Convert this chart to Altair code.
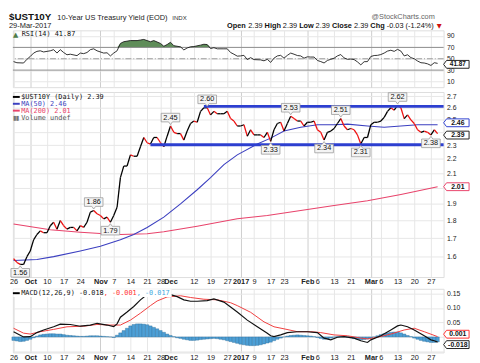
import altair as alt
import pandas as pd
import numpy as np

# ---------------- data (trading-day index 0 = 26 Sep 2016 ... 127 = 29 Mar 2017) -------------
N_DAYS = 128
close = [1.59, 1.57, 1.56, 1.56, 1.60,
         1.63, 1.69, 1.72, 1.74, 1.73, 1.73, 1.77, 1.79, 1.75, 1.80, 1.77, 1.75, 1.76, 1.76, 1.74,
         1.77, 1.76, 1.79, 1.85, 1.86, 1.84,
         1.83, 1.81, 1.82, 1.79, 1.83, 1.88, 2.07, 2.15, 2.15, 2.23, 2.22, 2.22, 2.29, 2.36,
         2.32, 2.31, 2.36, 2.36, 2.32, 2.29, 2.37,
         2.45, 2.40, 2.39, 2.39, 2.34, 2.41, 2.47, 2.49, 2.48, 2.57, 2.60, 2.60,
         2.54, 2.57, 2.55, 2.55, 2.55, 2.57, 2.51, 2.49, 2.45,
         2.45, 2.46, 2.37, 2.42, 2.38, 2.38, 2.38, 2.36, 2.40, 2.33, 2.42, 2.47, 2.48,
         2.41, 2.47, 2.53, 2.51, 2.49, 2.49, 2.45,
         2.48, 2.48, 2.49, 2.42, 2.40, 2.34, 2.40, 2.41, 2.43, 2.47, 2.51, 2.45, 2.42,
         2.43, 2.42, 2.38, 2.31, 2.36, 2.36,
         2.46, 2.48, 2.48, 2.49, 2.52, 2.57, 2.60, 2.58, 2.62, 2.60, 2.51, 2.54, 2.50,
         2.47, 2.42, 2.40, 2.41, 2.40, 2.38, 2.42, 2.39]

ma50_points = [(0, 1.58), (7, 1.585), (12, 1.60), (20, 1.63), (26, 1.655), (32, 1.69), (36, 1.72),
               (40, 1.76), (45, 1.82), (50, 1.90), (55, 1.99), (59, 2.07), (63, 2.16), (67, 2.23),
               (73, 2.31), (77, 2.355), (81, 2.41), (86, 2.44), (91, 2.46), (96, 2.46), (100, 2.465),
               (106, 2.45), (111, 2.44), (116, 2.45), (121, 2.46), (127, 2.46)]
ma200_points = [(0, 1.78), (11, 1.747), (20, 1.733), (26, 1.725), (32, 1.72), (40, 1.724), (45, 1.735),
                (55, 1.767), (67, 1.81), (76, 1.83), (86, 1.86), (96, 1.89), (106, 1.92), (116, 1.96),
                (127, 2.01)]

rsi_points = [(0, 45), (1, 43), (3, 42.5), (4, 49), (5, 54), (6, 60), (7, 63), (8, 64), (9, 62), (11, 64),
              (12, 66), (13, 60), (14, 66), (15, 61), (16, 57), (17, 58), (19, 55.5), (20, 60), (21, 59),
              (22, 61), (23, 66), (24, 67.5), (25, 64), (27, 60), (28, 60.5), (29, 55), (30, 60), (31, 64),
              (32, 77), (33, 80), (35, 82), (37, 82), (38, 83), (39, 84), (40, 82), (41, 80), (42, 82),
              (44, 77), (45, 72), (46, 75), (47, 79), (48, 73), (50, 71), (51, 65.5), (52, 69), (53, 71),
              (54, 71.5), (56, 74), (57, 75.5), (58, 75), (59, 68), (60, 69.5), (61, 67.5), (63, 67.5),
              (64, 67.5), (65, 61), (66, 58), (67, 54.6), (68, 55), (69, 56), (70, 48.5), (71, 52),
              (72, 48.5), (74, 48), (75, 46.4), (76, 49), (77, 43.6), (78, 51), (79, 55), (80, 56),
              (81, 51), (82, 56), (83, 60), (84, 58), (85, 55.7), (86, 55), (87, 51), (88, 53.4), (89, 53),
              (90, 53), (91, 47), (92, 45), (93, 42.6), (94, 47), (95, 49), (96, 51), (97, 55), (98, 57.4),
              (99, 51.5), (100, 49), (101, 49.5), (102, 48.5), (103, 44.5), (104, 39.3), (105, 44.8),
              (106, 45), (107, 54), (108, 55.7), (109, 56), (110, 57.4), (111, 60), (112, 63.5), (113, 65),
              (114, 63), (115, 66.5), (116, 63.5), (117, 55), (118, 57), (119, 52), (120, 50), (121, 46),
              (122, 43), (123, 42.5), (124, 41), (125, 38.2), (126, 43), (127, 41.87)]

macd_points = [(0, 0.018), (2, 0.006), (3, 0.0), (5, 0.001), (7, 0.015), (9, 0.024), (12, 0.035),
               (14, 0.044), (17, 0.043), (20, 0.037), (23, 0.041), (25, 0.047), (28, 0.041), (30, 0.036),
               (31, 0.045), (32, 0.068), (34, 0.086), (36, 0.105), (38, 0.128), (40, 0.146), (42, 0.152),
               (44, 0.152), (46, 0.148), (47, 0.146), (49, 0.139), (51, 0.128), (53, 0.123), (55, 0.123),
               (58, 0.125), (60, 0.131), (63, 0.12), (65, 0.103), (67, 0.086), (70, 0.058), (73, 0.035),
               (76, 0.013), (77, 0.004), (78, 0.001), (80, 0.007), (82, 0.015), (85, 0.018), (88, 0.018),
               (91, 0.015), (93, -0.004), (95, -0.01), (97, -0.001), (99, 0.001), (102, -0.004),
               (104, -0.013), (106, -0.019), (107, -0.01), (110, 0.004), (113, 0.024), (115, 0.038),
               (116, 0.041), (118, 0.035), (120, 0.024), (123, 0.004), (125, -0.01), (126, -0.013),
               (127, -0.018)]
signal_points = [(0, 0.03), (3, 0.013), (5, 0.01), (8, 0.018), (12, 0.026), (16, 0.035), (21, 0.037),
                 (25, 0.043), (29, 0.041), (32, 0.041), (35, 0.058), (38, 0.082), (41, 0.108), (43, 0.124),
                 (46, 0.138), (50, 0.142), (53, 0.136), (57, 0.13), (61, 0.128), (65, 0.118), (67, 0.108),
                 (71, 0.085), (75, 0.052), (78, 0.035), (81, 0.028), (85, 0.018), (89, 0.018), (92, 0.015),
                 (96, 0.007), (100, 0.004), (104, -0.004), (106, -0.007), (109, -0.001), (113, 0.01),
                 (117, 0.024), (120, 0.03), (123, 0.018), (127, 0.001)]
hist = [-0.012, -0.014, -0.016, -0.015, -0.012,
        -0.008, -0.003, 0.003, 0.007, 0.009, 0.010, 0.011, 0.011, 0.010, 0.010,
        0.008, 0.006, 0.005, 0.004, 0.003, 0.002, 0.002, 0.003, 0.004, 0.004, 0.004,
        0.003, 0.002, 0.001, 0.000, -0.002, 0.006, 0.014, 0.022, 0.030,
        0.038, 0.043, 0.045, 0.045, 0.044, 0.042, 0.038, 0.033, 0.028, 0.022, 0.016, 0.010,
        0.005, 0.001, -0.003, -0.005, -0.008, -0.010, -0.012, -0.012, -0.011, -0.009, -0.008, -0.007,
        -0.006, -0.005, -0.006, -0.008, -0.010, -0.013, -0.016, -0.019, -0.022,
        -0.025, -0.027, -0.029, -0.030, -0.030, -0.029, -0.027, -0.024, -0.021,
        -0.018, -0.013, -0.008, -0.004, 0.000, 0.003, 0.005, 0.006, 0.007, 0.006, 0.005,
        0.004, 0.003, 0.001, -0.002, -0.005, -0.008, -0.007, -0.004,
        -0.001, 0.001, 0.002, 0.001, -0.001, -0.003, -0.006, -0.008, -0.010, -0.009, -0.007,
        -0.004, 0.000, 0.004, 0.008, 0.011, 0.014, 0.016, 0.017,
        0.017, 0.014, 0.010, 0.005, 0.001, -0.004, -0.008, -0.012, -0.015, -0.017,
        -0.019, -0.019, -0.017]

ann_day = [2, 24, 29, 47, 58, 77, 83, 93, 98, 104, 115, 125]
ann_val = [1.56, 1.86, 1.79, 2.45, 2.60, 2.33, 2.53, 2.34, 2.51, 2.31, 2.62, 2.38]
ann_pos = ["below", "above", "below", "above", "above", "below", "above", "below", "above", "below",
           "above", "below"]

trend_start = [41, 57]
trend_end = [128.8, 128.8]
trend_level = [2.305, 2.612]

x_ticks = [0, 5, 10, 15, 20, 26, 30, 35, 40, 44, 47, 54, 59, 64, 68, 72, 77, 81, 88, 91, 96, 101, 107,
           110, 115, 120, 125]
x_labels = ["26", "Oct", "10", "17", "24", "Nov", "7", "14", "21", "28", "Dec", "12", "19", "27", "2017",
            "9", "17", "23", "Feb", "6", "13", "21", "Mar", "6", "13", "20", "27"]
month_ticks = [5, 26, 47, 68, 88, 107]
price_ticks = [1.6, 1.7, 1.8, 1.9, 2.0, 2.1, 2.2, 2.3, 2.4, 2.5, 2.6, 2.7]
price_hidden = [2.0, 2.4]          # labels covered by the value tags
rsi_ticks = [10, 30, 50, 70, 90]
macd_ticks = [-0.05, 0.0, 0.05, 0.10, 0.15]

# ---------------- styling ----------------
FONT = "Liberation Sans"
MONO = "DejaVu Sans Mono"
W = 440
H_RSI, H_PRICE, H_MACD = 58, 189, 65
X_DOMAIN = [-0.2, 128.8]
BLUE = "#2d3fd0"
RED = "#ee1111"
MA200_C = "#e8436b"

xs = alt.Scale(domain=X_DOMAIN, nice=False, zero=False)
rs = alt.Scale(domain=[0, 100], nice=False, zero=False)
ps = alt.Scale(type="log", domain=[1.497, 2.737], nice=False, zero=False)
ms = alt.Scale(domain=[-0.0534, 0.166], nice=False, zero=False)

lab_expr = ("[" + ",".join("'%s'" % s for s in x_labels) + "][indexof([" +
            ",".join(map(str, x_ticks)) + "], datum.value)]")
month_test = "indexof([" + ",".join(map(str, month_ticks)) + "], datum.value) >= 0"


def x_axis(show):
    return alt.Axis(values=x_ticks, labels=show, labelExpr=lab_expr, ticks=False, domain=False,
                    grid=True,
                    gridColor={"condition": {"test": month_test, "value": "#cdcdcd"}, "value": "#e6e6e6"},
                    labelFont=FONT, labelFontSize=7.5, labelColor="#222",
                    labelFontWeight={"condition": {"test": month_test, "value": "bold"}, "value": "normal"},
                    labelPadding=1, labelOverlap=False, labelFlush=False, title=None)


def y_axis(values, expr=None):
    kw = dict(orient="right", values=values, ticks=False, domain=False, grid=True, gridColor="#e6e6e6",
              labelFont=FONT, labelFontSize=7, labelColor="#222", labelPadding=3, title=None,
              labelOverlap=False)
    if expr:
        kw["labelExpr"] = expr
    return alt.Axis(**kw)


AX_X_HIDE = x_axis(False)
AX_X_SHOW = x_axis(True)
AX_RSI = y_axis(rsi_ticks)
hid = " || ".join("abs(datum.value - %s) < 0.001" % v for v in price_hidden)
AX_PRICE = y_axis(price_ticks, expr="(%s) ? '' : format(datum.value, '.1f')" % hid)
AX_MACD = y_axis(macd_ticks, expr="datum.value > 0.01 ? format(datum.value, '.2f') : ''")

AW = {c: 0.556 for c in "0123456789"}
AW.update({" ": 0.278, ".": 0.278, ",": 0.278, "-": 0.333, "(": 0.333, ")": 0.333, "%": 0.889,
           "O": 0.778, "p": 0.556, "e": 0.556, "n": 0.556, "H": 0.722, "i": 0.222, "g": 0.556,
           "h": 0.556, "L": 0.556, "o": 0.556, "w": 0.722, "C": 0.722, "l": 0.222, "s": 0.5,
           "M": 0.833, "a": 0.556, "r": 0.333, "Y": 0.667, "U": 0.722, "S": 0.667, "T": 0.611,
           "u": 0.556, "y": 0.5, "d": 0.556, "E": 0.667, "D": 0.722, "I": 0.278, "N": 0.722,
           "X": 0.667, "t": 0.278, "c": 0.5, "k": 0.5, "m": 0.833, "$": 0.556})


def tw(s, size, bold=False):
    return sum(AW.get(c, 0.556) for c in s) * size * (1.07 if bold else 1.0)


def label(t, x, y, size, color="#222", weight="normal", font=FONT, align="left", baseline="alphabetic"):
    return alt.Chart(pd.DataFrame({"t": [t]})).mark_text(
        align=align, baseline=baseline, font=font, fontSize=size, fontWeight=weight, color=color
    ).encode(x=alt.value(x), y=alt.value(y), text="t:N")


def dash(x0, x1, y, color, width=2):
    return alt.Chart(pd.DataFrame({"a": [0]})).mark_rule(color=color, strokeWidth=width).encode(
        x=alt.value(x0), x2=alt.value(x1), y=alt.value(y))


# value tag: left-pointing box, 8px tall, 26px wide (unit = 5px at size 100)
TAG_PATH = "M-2.4,0 L-1.8,-0.8 L2.8,-0.8 L2.8,0.8 L-1.8,0.8 Z"


def tag(val, txt, border, scale, axis, yoff=0, fs=7):
    df = pd.DataFrame({"v": [val], "t": [txt]})
    base = alt.Chart(df).encode(y=alt.Y("v:Q", scale=scale, axis=axis))
    sym = base.mark_point(shape=TAG_PATH, size=100, filled=True, fill="white", stroke=border,
                          strokeWidth=1, opacity=1, yOffset=yoff).encode(x=alt.value(W + 12))
    t = base.mark_text(font=FONT, fontSize=fs, fontWeight="bold", color="#111", baseline="middle",
                       align="center", dy=yoff).encode(x=alt.value(W + 14.5), text="t:N")
    return [sym, t]


# ---------------- RSI panel ----------------
rsi_df = pd.DataFrame(rsi_points, columns=["day", "v"])
RX = alt.X("day:Q", scale=xs, axis=AX_X_HIDE)
rsi_fill = alt.Chart(rsi_df).transform_calculate(top="max(datum.v, 70)", base="70").mark_area(
    color="#5f8d59", opacity=1).encode(x=RX, y=alt.Y("top:Q", scale=rs, axis=AX_RSI), y2="base:Q")
rsi_rules = alt.Chart(pd.DataFrame({"v": [70, 30]})).mark_rule(color="#8c8c8c", strokeWidth=1).encode(
    y=alt.Y("v:Q", scale=rs, axis=AX_RSI))
rsi_mid = alt.Chart(pd.DataFrame({"v": [50]})).mark_rule(color="#9a9a9a", strokeWidth=1,
                                                         strokeDash=[6, 2, 1, 2]).encode(
    y=alt.Y("v:Q", scale=rs, axis=AX_RSI))
rsi_line = alt.Chart(rsi_df).mark_line(color="#1a1a1a", strokeWidth=0.9).encode(
    x=RX, y=alt.Y("v:Q", scale=rs, axis=AX_RSI))

# header texts (placed relative to the RSI panel)
L1, L2 = -10.5, -2.2
hdr = []
hdr.append(label("$UST10Y", -4, L1, 10, color="#111", weight="bold"))
x_desc = -4 + tw("$UST10Y", 10, True) + 3
hdr.append(label("10-Year US Treasury Yield (EOD)", x_desc, L1, 7.6, color="#222"))
x_indx = x_desc + tw("10-Year US Treasury Yield (EOD)", 7.6) + 3
hdr.append(label("INDX", x_indx, L1, 6.2, color="#333"))
hdr.append(label("@StockCharts.com", 431, L1 - 1, 7.5, color="#666", align="right"))
hdr.append(label("29-Mar-2017", -4, L2, 7.6, color="#222"))
segs = [("Open", "bold"), ("2.39", "normal"), ("High", "bold"), ("2.39", "normal"), ("Low", "bold"),
        ("2.39", "normal"), ("Close", "bold"), ("2.39", "normal"), ("Chg", "bold"),
        ("-0.03 (-1.24%)", "normal")]
HS = 7.5
total = sum(tw(s, HS, w == "bold") for s, w in segs) + (len(segs)) * tw(" ", HS) + 8
xx = W - total
for s, w in segs:
    hdr.append(label(s, xx, L2, HS, color="#111", weight=w))
    xx += tw(s, HS, w == "bold") + tw(" ", HS)
hdr.append(label("▼", xx + 1, L2, 6.5, color="#d01010", font="DejaVu Sans"))

rsi_legend = [label("▲", 0, 6.5, 7, color="#4f7d49", font="DejaVu Sans"),
              label("RSI(14) 41.87", 9, 4, 7, color="#111", font=MONO, baseline="middle")]

rsi_chart = alt.layer(rsi_fill, rsi_rules, rsi_mid, rsi_line, *hdr, *rsi_legend,
                      *tag(41.87, "41.87", "#222", rs, AX_RSI, yoff=1, fs=6.5)).properties(
    width=W, height=H_RSI)

# ---------------- price panel ----------------
seg_df = pd.DataFrame({"d0": list(range(N_DAYS - 1)), "d1": list(range(1, N_DAYS)),
                       "v0": close[:-1], "v1": close[1:]})
seg_df["dir"] = np.where(seg_df["v1"] >= seg_df["v0"], "up", "down")


def PX(f="day"):
    return alt.X(f + ":Q", scale=xs, axis=AX_X_SHOW)


def PY(f="v"):
    return alt.Y(f + ":Q", scale=ps, axis=AX_PRICE)


ma200_line = alt.Chart(pd.DataFrame(ma200_points, columns=["day", "v"])).mark_line(
    color=MA200_C, strokeWidth=1.1).encode(x=PX(), y=PY())
ma50_line = alt.Chart(pd.DataFrame(ma50_points, columns=["day", "v"])).mark_line(
    color="#3b3fc0", strokeWidth=1.1).encode(x=PX(), y=PY())
price_line = alt.Chart(seg_df).mark_rule(strokeWidth=1.3).encode(
    x=PX("d0"), x2="d1:Q", y=PY("v0"), y2="v1:Q",
    color=alt.Color("dir:N", scale=alt.Scale(domain=["up", "down"], range=["#000000", RED]), legend=None))
trend_df = pd.DataFrame({"d0": trend_start, "d1": trend_end, "v": trend_level})
trend = alt.Chart(trend_df).mark_rule(color=BLUE, strokeWidth=3).encode(
    x=PX("d0"), x2="d1:Q", y=PY())

ann_df = pd.DataFrame({"day": ann_day, "v": ann_val, "pos": ann_pos})
ann_df["t"] = ["%.2f" % v for v in ann_val]
ABOVE = "M-0.95,-1.3 L0.95,-1.3 L0.95,-0.42 L0.2,-0.42 L0,-0.15 L-0.2,-0.42 L-0.95,-0.42 Z"
BELOW = "M-0.95,1.3 L0.95,1.3 L0.95,0.42 L0.2,0.42 L0,0.15 L-0.2,0.42 L-0.95,0.42 Z"
ann_layers = []
for pos, path, dy in [("above", ABOVE, -8.6), ("below", BELOW, 8.6)]:
    b = alt.Chart(ann_df).transform_filter("datum.pos == '%s'" % pos).encode(x=PX(), y=PY())
    ann_layers.append(b.mark_point(shape=path, size=400, filled=True, fill="#f4f4f4", stroke="#9a9a9a",
                                   strokeWidth=0.8, opacity=1))
    ann_layers.append(b.mark_text(font=FONT, fontSize=7.5, color="#111", baseline="middle", dy=dy,
                                  align="center").encode(text="t:N"))

leg = []
leg_items = [("$UST10Y (Daily) 2.39", "#000000"), ("MA(50) 2.46", "#3b3fc0"), ("MA(200) 2.01", MA200_C)]
for i, (t, c) in enumerate(leg_items):
    yy = 5 + 7 * i
    leg.append(dash(0, 7, yy, c))
    leg.append(label(t, 8.5, yy, 7, color=c if i else "#111", font=MONO, baseline="middle"))
leg.append(label("▮", 0, 26.4, 6.5, color="#777", font="DejaVu Sans", baseline="middle"))
leg.append(label("▮", 3, 26.4, 6.5, color="#777", font="DejaVu Sans", baseline="middle"))
leg.append(label("Volume undef", 8.5, 26.4, 7, color="#555", font=MONO, baseline="middle"))

price_tags = tag(2.46, "2.46", BLUE, ps, AX_PRICE, yoff=-2) + \
    tag(2.39, "2.39", "#222", ps, AX_PRICE, yoff=1.5) + \
    tag(2.01, "2.01", MA200_C, ps, AX_PRICE)

price_chart = alt.layer(ma200_line, ma50_line, price_line, trend, *ann_layers, *leg,
                        *price_tags).properties(width=W, height=H_PRICE)

# ---------------- MACD panel ----------------
hist_df = pd.DataFrame({"day": list(range(N_DAYS)), "h": hist})
macd_df = pd.DataFrame(macd_points, columns=["day", "v"])
sig_df = pd.DataFrame(signal_points, columns=["day", "v"])


def MX(f="day"):
    return alt.X(f + ":Q", scale=xs, axis=AX_X_SHOW)


def MY(f="v"):
    return alt.Y(f + ":Q", scale=ms, axis=AX_MACD)


bars = alt.Chart(hist_df).transform_calculate(a="datum.day - 0.5", b="datum.day + 0.5", z="0").mark_rect(
    fill="#4c9fd6", stroke="#2b6d99", strokeWidth=0.4).encode(x=MX("a"), x2="b:Q", y=MY("h"), y2="z:Q")
sig_line = alt.Chart(sig_df).mark_line(color="#f03c3c", strokeWidth=1).encode(x=MX(), y=MY())
macd_line = alt.Chart(macd_df).mark_line(color="#111111", strokeWidth=1.2).encode(x=MX(), y=MY())

CW = 0.602 * 7
m1 = "MACD(12,26,9) -0.018"
m2 = ", -0.001"
m3 = ", -0.017"
x1 = 8.5
x2 = x1 + CW * len(m1)
x3 = x2 + CW * len(m2)
x4 = x3 + CW * len(m3)
macd_bg = alt.Chart(pd.DataFrame({"a": [0]})).mark_rect(fill="white").encode(
    x=alt.value(0.5), x2=alt.value(x4 + 2), y=alt.value(0.5), y2=alt.value(8.5))
macd_leg = [macd_bg, dash(0, 7, 4.5, "#000000"),
            label(m1, x1, 4.5, 7, color="#111", font=MONO, baseline="middle"),
            label(m2, x2, 4.5, 7, color="#ff3030", font=MONO, baseline="middle"),
            label(m3, x3, 4.5, 7, color="#3fa7de", font=MONO, baseline="middle")]
macd_tags = tag(0.001, "0.001", "#ff3030", ms, AX_MACD, yoff=-2.5) + \
    tag(-0.018, "-0.018", "#222", ms, AX_MACD, yoff=2.5)

macd_chart = alt.layer(bars, sig_line, macd_line, *macd_leg, *macd_tags).properties(
    width=W, height=H_MACD)

chart = alt.vconcat(rsi_chart, price_chart, macd_chart, spacing=2).properties(
    padding={"left": 0, "top": 0, "right": 0, "bottom": 0}
).configure_view(stroke="#b5b5b5", strokeWidth=1).configure(font=FONT, background="white")

chart.save("out.html", embed_options={"renderer": "svg", "actions": False})
